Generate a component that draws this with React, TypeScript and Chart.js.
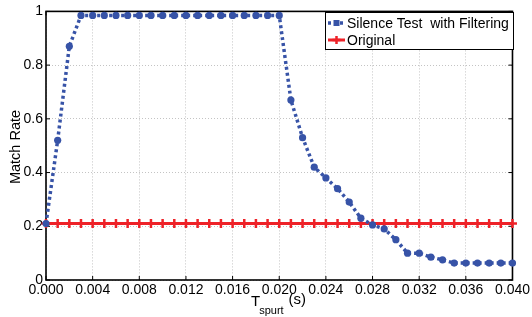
import React, { useEffect, useRef } from 'react';
import { Chart, registerables } from 'chart.js';

Chart.register(...registerables);

const tSpurt = [
  0.000, 0.001, 0.002, 0.003, 0.004, 0.005, 0.006, 0.007, 0.008, 0.009,
  0.010, 0.011, 0.012, 0.013, 0.014, 0.015, 0.016, 0.017, 0.018, 0.019,
  0.020, 0.021, 0.022, 0.023, 0.024, 0.025, 0.026, 0.027, 0.028, 0.029,
  0.030, 0.031, 0.032, 0.033, 0.034, 0.035, 0.036, 0.037, 0.038, 0.039,
  0.040,
];

const silenceWithFiltering = [
  0.21, 0.52, 0.87, 0.985, 0.985, 0.985, 0.985, 0.985, 0.985, 0.985,
  0.985, 0.985, 0.985, 0.985, 0.985, 0.985, 0.985, 0.985, 0.985, 0.985,
  0.985, 0.67, 0.53, 0.42, 0.38, 0.34, 0.29, 0.23, 0.205, 0.19,
  0.15, 0.10, 0.10, 0.085, 0.075, 0.063, 0.063, 0.063, 0.063, 0.063,
  0.063,
];

const original = [
  0.21, 0.21, 0.21, 0.21, 0.21, 0.21, 0.21, 0.21, 0.21, 0.21,
  0.21, 0.21, 0.21, 0.21, 0.21, 0.21, 0.21, 0.21, 0.21, 0.21,
  0.21, 0.21, 0.21, 0.21, 0.21, 0.21, 0.21, 0.21, 0.21, 0.21,
  0.21, 0.21, 0.21, 0.21, 0.21, 0.21, 0.21, 0.21, 0.21, 0.21,
  0.21,
];

const seriesLabels = ['Silence Test  with Filtering', 'Original'];
const yTitle = 'Match Rate';
const xTitleMain = 'T';
const xTitleSub = 'spurt';
const xTitleUnit = '(s)';

const FONT = '"Liberation Sans", Arial, Helvetica, sans-serif';
const BLUE = '#3753a7';
const RED = '#ee2228';

const framePlugin = {
  id: 'matlabFrame',
  beforeDatasetsDraw(chart: any) {
    const { ctx, chartArea, scales } = chart;
    const { left, right, top, bottom } = chartArea;
    const x = scales.x;
    const y = scales.y;
    ctx.save();
    ctx.strokeStyle = '#000';
    ctx.lineWidth = 1;
    const seg = (x1: number, y1: number, x2: number, y2: number) => {
      ctx.beginPath();
      ctx.moveTo(x1, y1);
      ctx.lineTo(x2, y2);
      ctx.stroke();
    };
    x.ticks.forEach((t: any) => {
      const px = x.getPixelForValue(t.value);
      seg(px, bottom, px, bottom - 4);
      seg(px, top, px, top + 4);
    });
    y.ticks.forEach((t: any) => {
      const py = y.getPixelForValue(t.value);
      seg(left, py, left + 4, py);
      seg(right, py, right - 4, py);
    });
    ctx.lineWidth = 1.6;
    ctx.strokeRect(left, top, right - left, bottom - top);
    ctx.restore();
  },
  afterDraw(chart: any) {
    const { ctx } = chart;
    ctx.save();
    ctx.fillStyle = '#000';
    // y title
    ctx.save();
    ctx.translate(20, 147);
    ctx.rotate(-Math.PI / 2);
    ctx.font = `14.5px ${FONT}`;
    ctx.textAlign = 'center';
    ctx.textBaseline = 'alphabetic';
    ctx.fillText(yTitle, 0, 0);
    ctx.restore();
    // x title with subscript
    ctx.textAlign = 'left';
    ctx.textBaseline = 'alphabetic';
    ctx.font = `15px ${FONT}`;
    let cx = 251;
    ctx.fillText(xTitleMain, cx, 306);
    cx += ctx.measureText(xTitleMain).width - 1;
    ctx.font = `11px ${FONT}`;
    ctx.fillText(xTitleSub, cx, 314);
    cx += ctx.measureText(xTitleSub).width + 5;
    ctx.font = `15px ${FONT}`;
    ctx.fillText(xTitleUnit, cx, 304);

    // legend
    const lx = 325, ly = 12, lw = 188, lh = 37;
    ctx.fillStyle = '#fff';
    ctx.fillRect(lx, ly, lw, lh);
    ctx.strokeStyle = '#000';
    ctx.lineWidth = 1;
    ctx.strokeRect(lx + 0.5, ly + 0.5, lw, lh);
    const rows = [ly + 11, ly + 28];
    chart.data.datasets.forEach((ds: any, i: number) => {
      const ry = rows[i];
      ctx.save();
      ctx.strokeStyle = ds.borderColor;
      ctx.lineWidth = ds.borderWidth;
      ctx.setLineDash(ds.borderDash || []);
      ctx.beginPath();
      ctx.moveTo(lx + 3, ry);
      ctx.lineTo(lx + 20, ry);
      ctx.stroke();
      ctx.setLineDash([]);
      const mx = lx + 11.5;
      if (ds.pointStyle === 'cross') {
        ctx.lineWidth = 2.5;
        ctx.beginPath();
        ctx.moveTo(mx - 4, ry);
        ctx.lineTo(mx + 4, ry);
        ctx.moveTo(mx, ry - 4);
        ctx.lineTo(mx, ry + 4);
        ctx.stroke();
      } else {
        ctx.fillStyle = ds.backgroundColor;
        ctx.fillRect(mx - 3, ry - 3, 6, 6);
      }
      ctx.restore();
      ctx.fillStyle = '#000';
      ctx.font = `14px ${FONT}`;
      ctx.textBaseline = 'middle';
      ctx.fillText(ds.label, lx + 22, ry + 1);
    });
    ctx.restore();
  },
};

export default function App() {
  const canvasRef = useRef<HTMLCanvasElement | null>(null);

  useEffect(() => {
    if (!canvasRef.current) return;
    const chart = new Chart(canvasRef.current, {
      type: 'line',
      data: {
        datasets: [
          {
            label: seriesLabels[0],
            data: tSpurt.map((t, i) => ({ x: t, y: silenceWithFiltering[i] })),
            borderColor: BLUE,
            backgroundColor: BLUE,
            borderWidth: 3.5,
            borderDash: [3, 3],
            pointStyle: 'circle',
            pointRadius: 3.6,
            pointBorderWidth: 0,
            pointBackgroundColor: BLUE,
            tension: 0,
            clip: false as any,
          },
          {
            label: seriesLabels[1],
            data: tSpurt.map((t, i) => ({ x: t, y: original[i] })),
            borderColor: RED,
            backgroundColor: RED,
            borderWidth: 3,
            pointStyle: 'cross',
            pointRadius: 4.5,
            pointBorderWidth: 2.5,
            pointBorderColor: RED,
            tension: 0,
            clip: false as any,
          },
        ],
      },
      options: {
        responsive: false,
        animation: false,
        events: [],
        layout: { padding: { top: 11, right: 17, left: 0, bottom: 0 } },
        plugins: {
          legend: { display: false },
          tooltip: { enabled: false },
          title: { display: false },
        },
        scales: {
          x: {
            type: 'linear',
            min: 0,
            max: 0.04,
            afterFit: (s: any) => { s.height = 37; },
            ticks: {
              stepSize: 0.004,
              autoSkip: false,
              maxRotation: 0,
              padding: 2,
              color: '#000',
              font: { family: FONT, size: 14 },
              callback: (v: any) => Number(v).toFixed(3),
            },
            grid: { color: '#c4c4c4', lineWidth: 1, drawTicks: false },
            border: { display: false, dash: [1, 2] },
          },
          y: {
            type: 'linear',
            min: 0,
            max: 1,
            afterFit: (s: any) => { s.width = 46; },
            ticks: {
              stepSize: 0.2,
              padding: 3,
              color: '#000',
              font: { family: FONT, size: 14 },
              callback: (v: any) => {
                const n = Math.round(Number(v) * 10) / 10;
                return n === 0 || n === 1 ? String(n) : n.toFixed(1);
              },
            },
            grid: { color: '#c4c4c4', lineWidth: 1, drawTicks: false },
            border: { display: false, dash: [1, 2] },
          },
        },
      },
      plugins: [framePlugin],
    } as any);
    return () => chart.destroy();
  }, []);

  return (
    <div style={{ position: 'absolute', left: 0, top: 0, width: 532, height: 317, background: '#fff' }}>
      <canvas ref={canvasRef} width={532} height={317} style={{ display: 'block', width: 532, height: 317 }} />
    </div>
  );
}
